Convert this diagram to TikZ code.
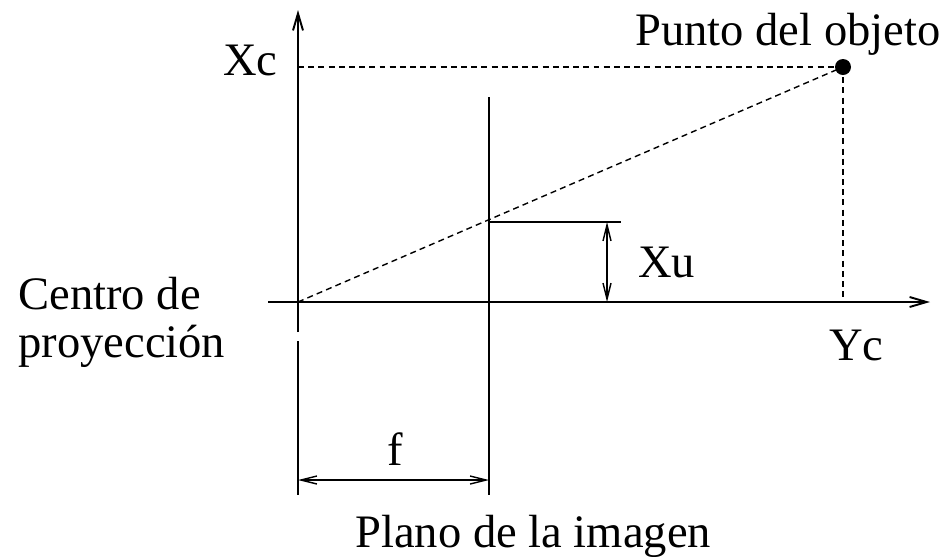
\documentclass[tikz,border=0pt]{standalone}
\usepackage{fontspec}
\setmainfont{Liberation Serif}
\usetikzlibrary{arrows.meta, positioning, calc}

\begin{document}
\begin{tikzpicture}[
    x=0.02cm, y=-0.02cm,
    font=\fontsize{26.5}{30}\selectfont,
    axis/.style={line width=1.1pt, -{Straight Barb[length=3.4mm, width=2mm]}},
    plane/.style={line width=1.1pt},
    guide/.style={line width=0.8pt, dash pattern=on 3.4pt off 2.4pt},
    dim/.style={line width=0.8pt, {Straight Barb[length=3.2mm, width=1.6mm]}-{Straight Barb[length=3.2mm, width=1.6mm]}},
    dot/.style={circle, fill, inner sep=0pt, minimum size=0.32cm},
    lbl/.style={inner sep=0pt, anchor=base west},
]
\useasboundingbox (0,0) rectangle (948,556);

% ejes
\coordinate (o) at (298,302);
\coordinate (xl) at (268,302);
\coordinate (xr) at (930,302);
\coordinate (yt) at (298,10);
\coordinate (yb) at (298,332);
\coordinate (ys) at (298,341);
\coordinate (ye) at (298,495);
\draw[axis] (xl) -- (xr);
\draw[axis] (yb) -- (yt);
\draw[plane] (ys) -- (ye);

% plano de la imagen
\coordinate (pt) at (489,97);
\coordinate (pb) at (489,495);
\draw[plane] (pt) -- (pb);

% punto del objeto
\node[dot] (obj) at (843,67) {};
\coordinate (xc) at (298,67);
\coordinate (yc) at (843,302);
\draw[guide] (xc) -- (obj.center);
\draw[guide] (obj.center) -- (yc);
\draw[guide] (o) -- (obj.center);

% Xu
\coordinate (xu0) at (489,222);
\coordinate (xu1) at (621,222);
\coordinate (xut) at (607,222);
\coordinate (xub) at (607,302);
\draw[plane, line width=0.8pt] (xu0) -- (xu1);
\draw[dim] (xut) -- (xub);

% f
\coordinate (fl) at (298,480);
\coordinate (fr) at (489,480);
\draw[dim] (fl) -- (fr);

% textos
\node[lbl] (lxc) at (223,75) {Xc};
\node[lbl] (lobj) at (635,45) {Punto del objeto};
\node[lbl] (lxu) at (638,277) {Xu};
\node[lbl] (lyc) at (829,360) {Yc};
\node[lbl, anchor=base] (lf) at (395,465) {f};
\node[lbl] (lcp1) at (18,309) {Centro de};
\node[lbl] (lcp2) at (18,357) {proyección};
\node[lbl] (lpl) at (355,547) {Plano de la imagen};

\end{tikzpicture}
\end{document}
